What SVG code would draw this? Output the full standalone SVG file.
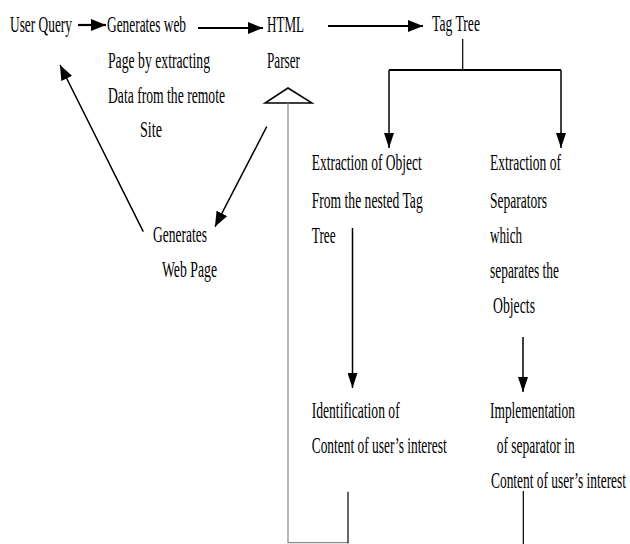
<svg xmlns="http://www.w3.org/2000/svg" width="630" height="544" viewBox="0 0 630 544">
<defs>
<marker id="ah" markerUnits="userSpaceOnUse" markerWidth="16" markerHeight="12" viewBox="0 0 16 12" refX="15" refY="6" orient="auto">
<path d="M0,0 L15,6 L0,12 Z" fill="#000"/>
</marker>
<marker id="ahs" markerUnits="userSpaceOnUse" markerWidth="16" markerHeight="10" viewBox="0 0 16 10" refX="15" refY="5" orient="auto">
<path d="M0,0 L15,5 L0,10 Z" fill="#000"/>
</marker>
</defs>
<style>
text{font-family:"Liberation Serif","Times New Roman",serif;font-size:22.5px;fill:#000}
.thick{stroke:#000;stroke-width:2.2;fill:none}
.mid{stroke:#000;stroke-width:1.5;fill:none}
.thin{stroke:#000;stroke-width:1.2;fill:none}
.gray{stroke:#888;stroke-width:1.2;fill:none}
</style>
<rect width="630" height="544" fill="#fff"/>
<g id="n-userquery"><text x="10" y="32" textLength="62" lengthAdjust="spacingAndGlyphs">User Query</text></g>
<g id="n-generates">
<text x="107" y="32" textLength="79" lengthAdjust="spacingAndGlyphs">Generates web</text>
<text x="108" y="67.5" textLength="102" lengthAdjust="spacingAndGlyphs">Page by extracting</text>
<text x="108" y="103" textLength="117" lengthAdjust="spacingAndGlyphs">Data from the remote</text>
<text x="140" y="137" textLength="22" lengthAdjust="spacingAndGlyphs">Site</text>
</g>
<g id="n-html">
<text x="267" y="32" textLength="37" lengthAdjust="spacingAndGlyphs">HTML</text>
<text x="267" y="68" textLength="33" lengthAdjust="spacingAndGlyphs">Parser</text>
<polygon points="288,88 265,103 312,103" fill="#fff" stroke="#000" stroke-width="1.5"/>
</g>
<g id="n-tagtree"><text x="432" y="31" textLength="48" lengthAdjust="spacingAndGlyphs">Tag Tree</text></g>
<g id="n-extobj">
<text x="311.7" y="170" textLength="110" lengthAdjust="spacingAndGlyphs">Extraction of Object</text>
<text x="311.7" y="208" textLength="111" lengthAdjust="spacingAndGlyphs">From the nested Tag</text>
<text x="311.7" y="243" textLength="24" lengthAdjust="spacingAndGlyphs">Tree</text>
</g>
<g id="n-extsep">
<text x="490" y="170" textLength="71" lengthAdjust="spacingAndGlyphs">Extraction of</text>
<text x="490" y="208" textLength="57" lengthAdjust="spacingAndGlyphs">Separators</text>
<text x="490" y="243" textLength="32" lengthAdjust="spacingAndGlyphs">which</text>
<text x="490" y="278" textLength="69" lengthAdjust="spacingAndGlyphs">separates the</text>
<text x="493" y="313" textLength="42" lengthAdjust="spacingAndGlyphs">Objects</text>
</g>
<g id="n-ident">
<text x="311.7" y="418" textLength="88" lengthAdjust="spacingAndGlyphs">Identification of</text>
<text x="311.7" y="453" textLength="135" lengthAdjust="spacingAndGlyphs">Content of user’s interest</text>
</g>
<g id="n-impl">
<text x="490" y="418" textLength="85" lengthAdjust="spacingAndGlyphs">Implementation</text>
<text x="496.7" y="453" textLength="78" lengthAdjust="spacingAndGlyphs">of separator in</text>
<text x="491" y="488" textLength="135" lengthAdjust="spacingAndGlyphs">Content of user’s interest</text>
</g>
<g id="n-genpage">
<text x="153" y="242" textLength="54" lengthAdjust="spacingAndGlyphs">Generates</text>
<text x="162" y="277" textLength="55" lengthAdjust="spacingAndGlyphs">Web Page</text>
</g>
<g id="connectors">
<line class="thick" x1="78" y1="25" x2="106" y2="25" marker-end="url(#ah)"/>
<line class="thick" x1="198" y1="28" x2="263" y2="28" marker-end="url(#ah)"/>
<line class="thick" x1="328" y1="26" x2="423" y2="26" marker-end="url(#ah)"/>
<line class="thin" x1="462.7" y1="39" x2="462.7" y2="70"/>
<line class="thick" x1="389" y1="70" x2="561" y2="70"/>
<line class="mid" x1="389" y1="70" x2="389" y2="148" marker-end="url(#ahs)"/>
<line class="mid" x1="561" y1="70" x2="561" y2="148" marker-end="url(#ahs)"/>
<line class="mid" x1="352.5" y1="228" x2="352.5" y2="388" marker-end="url(#ahs)"/>
<line class="mid" x1="523" y1="337" x2="523" y2="392" marker-end="url(#ahs)"/>
<line class="mid" x1="266.7" y1="126.7" x2="215" y2="226.7" marker-end="url(#ah)"/>
<line class="mid" x1="143.3" y1="231.7" x2="60" y2="65" marker-end="url(#ah)"/>
<polyline class="gray" points="288,103 288,542.7 348,542.7"/>
<line class="thin" x1="348" y1="491.7" x2="348" y2="543.3"/>
<line class="thin" x1="523.3" y1="491" x2="523.3" y2="544"/>
</g>
</svg>
